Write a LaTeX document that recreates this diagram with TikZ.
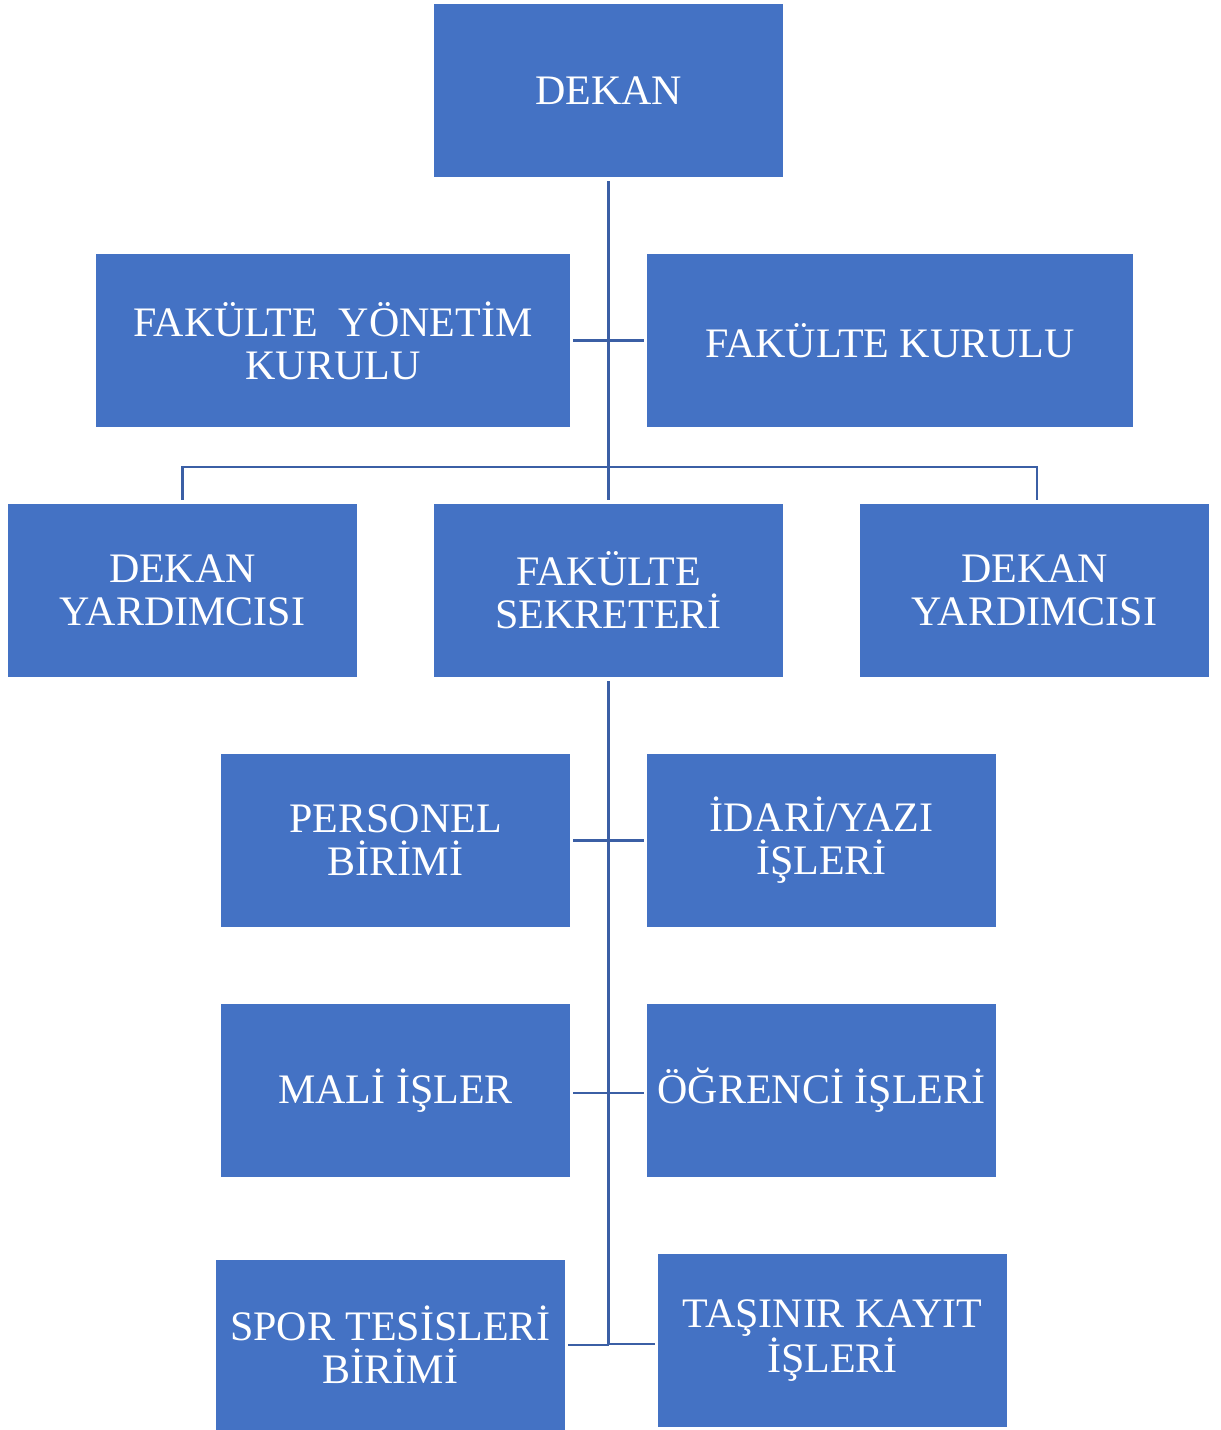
\documentclass[tikz,border=0pt]{standalone}
\usepackage{fontspec}
\setmainfont{Liberation Serif}
\usetikzlibrary{calc}
\definecolor{boxblue}{HTML}{4472C4}
\definecolor{linkblue}{HTML}{3B5FA5}
\begin{document}
\begin{tikzpicture}[x=0.5pt,y=-0.5pt,
  unit/.style={fill=boxblue, draw=none, inner sep=0pt, text=white, align=center,
    minimum width=174.5pt, minimum height=86.5pt,
    font=\fontsize{21pt}{21.5pt}\selectfont},
  link/.style={draw=linkblue, line width=1.4pt}]
\useasboundingbox (0,0) rectangle (1221,1430);
\node[unit] (dekan) at (608.5,90.5) {DEKAN};
\node[unit, minimum width=237pt] (fyk) at (333,340.5) {FAKÜLTE\ \ YÖNETİM\\KURULU};
\node[unit, minimum width=243pt] (fk) at (890,340.5) {FAKÜLTE KURULU};
\node[unit] (dy1) at (182.5,590.5) {DEKAN\\YARDIMCISI};
\node[unit] (fs) at (608.5,590.5) {FAKÜLTE\\SEKRETERİ};
\node[unit] (dy2) at (1034.5,590.5) {DEKAN\\YARDIMCISI};
\node[unit] (pers) at (395.5,840.5) {PERSONEL\\BİRİMİ};
\node[unit] (idari) at (821.5,840.5) {İDARİ/YAZI\\İŞLERİ};
\node[unit] (mali) at (395.5,1090.5) {MALİ İŞLER};
\node[unit] (ogr) at (821.5,1090.5) {ÖĞRENCİ İŞLERİ};
\node[unit, minimum height=85pt] (spor) at (390.5,1345) {SPOR TESİSLERİ\\BİRİMİ};
\node[unit] (tas) at (832.5,1340.5) {TAŞINIR KAYIT\\İŞLERİ};
\coordinate (bar) at (609,467);
\coordinate (dy2top) at ([xshift=1.25pt]dy2.north);
% top trunk
\draw[link, shorten <=2pt, shorten >=2pt] (dekan.south) -- (fs.north);
\draw[link, shorten <=1.5pt, shorten >=1.5pt] (fyk.east) -- (fk.west);
\draw[link, shorten <=2pt, shorten >=2pt] (dy1.north) -- (dy1.north |- bar) -- (dy2top |- bar) -- (dy2top);
% lower trunk
\coordinate (low) at (fs.south |- spor.east);
\coordinate (low2) at ([yshift=0.5pt]low);
\draw[link, shorten <=2pt] (fs.south) -- (low);
\draw[link, shorten <=1.5pt, shorten >=1.5pt] (pers.east) -- (idari.west);
\draw[link, shorten <=1.5pt, shorten >=1.5pt] ([yshift=-1.2pt]mali.east) -- ([yshift=-1.2pt]ogr.west);
\draw[link, shorten <=1.5pt] (spor.east) -- (low);
\draw[link, shorten >=1.5pt] (low2) -- (tas.west |- low2);
\end{tikzpicture}
\end{document}
